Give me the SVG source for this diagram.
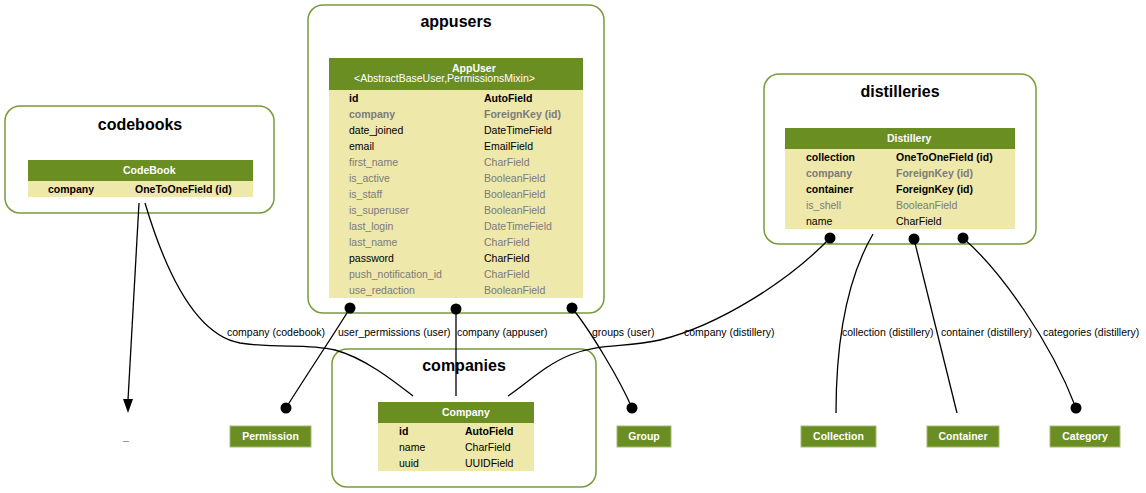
<svg xmlns="http://www.w3.org/2000/svg" width="1146" height="493" viewBox="0 0 1146 493">
<style>
text{font-family:"Liberation Sans",Arial,sans-serif;font-size:10.5px;fill:#000}
.cl{fill:#fff;stroke:#789b3a;stroke-width:1.5}
.title{font-size:16px;font-weight:bold;text-anchor:middle}
.hd{fill:#6b8e23}
.rows{fill:#eee8aa}
.ht{fill:#fff;font-weight:bold}
.hs{fill:#fff}
.b{font-weight:bold}
.g{fill:#7b7b7b}
.ext{fill:#6b8e23;stroke:#a8b878;stroke-width:1}
.et{fill:#fff;font-weight:bold;text-anchor:middle}
.e{fill:none;stroke:#000;stroke-width:1.3}
.dot{fill:#000}
</style>
<g id="codebooks">
<rect class="cl" x="5" y="106" width="269" height="107" rx="15"/>
<text class="title" x="140" y="130">codebooks</text>
<rect class="hd" x="28" y="160" width="225" height="21"/>
<rect class="rows" x="28" y="181" width="225" height="16"/>
<text class="ht" x="123" y="174">CodeBook</text>
<text class="b" x="48" y="193">company</text>
<text class="b" x="135" y="193">OneToOneField (id)</text>
</g>
<g id="appusers">
<rect class="cl" x="308" y="5" width="296" height="308" rx="15"/>
<text class="title" x="456" y="27">appusers</text>
<rect class="hd" x="329" y="58" width="254" height="32"/>
<rect class="rows" x="329" y="90" width="254" height="208"/>
<text class="ht" x="452" y="72">AppUser</text>
<text class="hs" x="354" y="82">&lt;AbstractBaseUser,PermissionsMixin&gt;</text>
<text class="b" x="349" y="102">id</text><text class="b" x="484" y="102">AutoField</text>
<text class="b g" x="349" y="118">company</text><text class="b g" x="484" y="118">ForeignKey (id)</text>
<text x="349" y="134">date_joined</text><text x="484" y="134">DateTimeField</text>
<text x="349" y="150">email</text><text x="484" y="150">EmailField</text>
<text class="g" x="349" y="166">first_name</text><text class="g" x="484" y="166">CharField</text>
<text class="g" x="349" y="182">is_active</text><text class="g" x="484" y="182">BooleanField</text>
<text class="g" x="349" y="198">is_staff</text><text class="g" x="484" y="198">BooleanField</text>
<text class="g" x="349" y="214">is_superuser</text><text class="g" x="484" y="214">BooleanField</text>
<text class="g" x="349" y="230">last_login</text><text class="g" x="484" y="230">DateTimeField</text>
<text class="g" x="349" y="246">last_name</text><text class="g" x="484" y="246">CharField</text>
<text x="349" y="262">password</text><text x="484" y="262">CharField</text>
<text class="g" x="349" y="278">push_notification_id</text><text class="g" x="484" y="278">CharField</text>
<text class="g" x="349" y="294">use_redaction</text><text class="g" x="484" y="294">BooleanField</text>
</g>
<g id="distilleries">
<rect class="cl" x="764" y="74" width="272" height="170" rx="15"/>
<text class="title" x="900" y="97">distilleries</text>
<rect class="hd" x="785" y="128" width="230" height="21"/>
<rect class="rows" x="785" y="149" width="230" height="80"/>
<text class="ht" x="887" y="142">Distillery</text>
<text class="b" x="806" y="161">collection</text><text class="b" x="896" y="161">OneToOneField (id)</text>
<text class="b g" x="806" y="177">company</text><text class="b g" x="896" y="177">ForeignKey (id)</text>
<text class="b" x="806" y="193">container</text><text class="b" x="896" y="193">ForeignKey (id)</text>
<text class="g" x="806" y="209">is_shell</text><text class="g" x="896" y="209">BooleanField</text>
<text x="806" y="225">name</text><text x="896" y="225">CharField</text>
</g>
<g id="companies">
<rect class="cl" x="332" y="349" width="264" height="138" rx="15"/>
<text class="title" x="464" y="371">companies</text>
<rect class="hd" x="378" y="402" width="156" height="21"/>
<rect class="rows" x="378" y="423" width="156" height="48"/>
<text class="ht" x="442" y="416">Company</text>
<text class="b" x="399" y="435">id</text><text class="b" x="465" y="435">AutoField</text>
<text x="399" y="451">name</text><text x="465" y="451">CharField</text>
<text x="399" y="467">uuid</text><text x="465" y="467">UUIDField</text>
</g>
<g id="underscore"><text class="g" x="123" y="440">_</text></g>
<g id="permission"><rect class="ext" x="230" y="426" width="81" height="21"/><text class="et" x="270.5" y="440">Permission</text></g>
<g id="group"><rect class="ext" x="617" y="426" width="54" height="21"/><text class="et" x="644" y="440">Group</text></g>
<g id="collection"><rect class="ext" x="801" y="426" width="75" height="21"/><text class="et" x="838.5" y="440">Collection</text></g>
<g id="container"><rect class="ext" x="927" y="426" width="72" height="21"/><text class="et" x="963" y="440">Container</text></g>
<g id="category"><rect class="ext" x="1050" y="426" width="70" height="21"/><text class="et" x="1085" y="440">Category</text></g>
<g id="connectors">
<path class="e" d="M139,203 L128,400"/>
<polygon points="123,399 133,399 128,413" fill="#000"/>
<path class="e" d="M145,203 C165,270 195,335 240,343 C280,349 305,343 335,350 C365,358 395,382 413,396"/>
<text x="227" y="336">company (codebook)</text>
<path class="e" d="M350,308 C340,325 300,385 286,408"/>
<circle class="dot" cx="350" cy="308" r="5.5"/><circle class="dot" cx="286" cy="408" r="5.5"/>
<text x="338" y="336">user_permissions (user)</text>
<path class="e" d="M456,309 L456,396"/>
<circle class="dot" cx="456" cy="309" r="5.5"/>
<text x="457" y="336">company (appuser)</text>
<path class="e" d="M572,308 C590,330 620,380 632,408"/>
<circle class="dot" cx="572" cy="308" r="5.5"/><circle class="dot" cx="632" cy="408" r="5.5"/>
<text x="592" y="336">groups (user)</text>
<path class="e" d="M830,238 C790,280 720,325 660,340 C625,348 600,343 570,355 C545,365 525,385 508,396"/>
<circle class="dot" cx="830" cy="238" r="5.5"/>
<text x="684" y="336">company (distillery)</text>
<path class="e" d="M873,234 C855,265 836,320 836,413"/>
<text x="842" y="336">collection (distillery)</text>
<path class="e" d="M914,239 L957,413"/>
<circle class="dot" cx="914" cy="239" r="5.5"/>
<text x="941" y="336">container (distillery)</text>
<path class="e" d="M963,238 C1000,270 1050,340 1076,408"/>
<circle class="dot" cx="963" cy="238" r="5.5"/><circle class="dot" cx="1076" cy="408" r="5.5"/>
<text x="1043" y="336">categories (distillery)</text>
</g>
</svg>
